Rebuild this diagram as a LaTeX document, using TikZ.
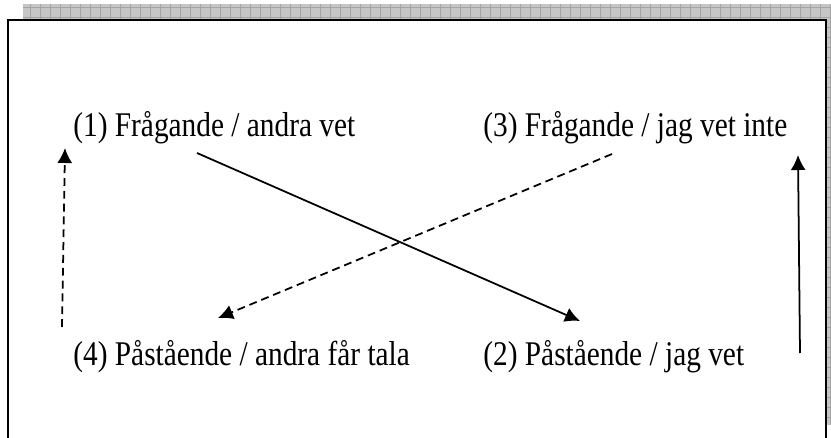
\documentclass[tikz,border=0pt]{standalone}
\usepackage{fontspec}
\setmainfont{Liberation Serif}
\usetikzlibrary{arrows.meta}
\definecolor{shadowgrey}{HTML}{C6C6C6}
\definecolor{shadowgrid}{HTML}{A4A4A4}
% the labels are set a little taller than wide
\newcommand{\tall}[1]{\scalebox{1}[1.18]{#1}}

\begin{document}
\begin{tikzpicture}[
  lbl/.style={anchor=base west, inner sep=0pt, font=\fontsize{16.7}{20}\selectfont},
  flow/.style={-{Latex[length=0.3cm,width=0.3cm]}, line width=1pt},
  back/.style={flow, dash pattern=on 4.5pt off 2.8pt}]
\useasboundingbox (0,0) rectangle (16.62,8.74);
% shadow behind the frame
\begin{scope}
\clip (0.46,0.24) rectangle (16.62,8.66);
\fill[shadowgrey] (0.46,0.24) rectangle (16.62,8.66);
\draw[shadowgrid, line width=0.4pt, step=0.2] (0.46,0.24) grid (16.62,8.66);
\end{scope}
\filldraw[fill=white, line width=1.3pt] (0.16,-0.2) rectangle (16.52,8.34);

\node[lbl] (q1) at (1.46,6.0) {\tall{(1) Frågande / andra vet}};
\node[lbl] (q3) at (9.66,6.0) {\tall{(3) Frågande / jag vet inte}};
\node[lbl] (p4) at (1.46,1.44) {\tall{(4) Påstående / andra får tala}};
\node[lbl] (p2) at (9.66,1.44) {\tall{(2) Påstående / jag vet}};

% arrow ends
\coordinate (s1) at (3.94,5.68);
\coordinate (e2) at (11.6,2.32);
\coordinate (s3) at (12.24,5.66);
\coordinate (e4) at (4.36,2.38);
\coordinate (s4) at (1.24,2.2);
\coordinate (e1) at (1.3,5.78);
\coordinate (s2) at (16.0,1.68);
\coordinate (e3) at (15.96,5.64);

\draw[flow] (s1) -- (e2);
\draw[back] (s3) -- (e4);
\draw[back] (s4) -- (e1);
\draw[flow] (s2) -- (e3);
\end{tikzpicture}
\end{document}
